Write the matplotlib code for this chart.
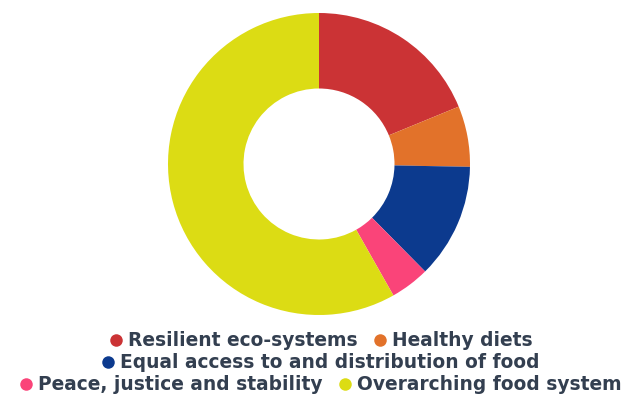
import matplotlib
matplotlib.use("Agg")
import matplotlib.pyplot as plt
from matplotlib.lines import Line2D

categories = ["Resilient eco-systems", "Healthy diets",
              "Equal access to and distribution of food",
              "Peace, justice and stability", "Overarching food system"]
values = [18.8, 6.5, 12.3, 4.2, 58.2]
colors = ["#cb3335", "#e2722a", "#0c3a8e", "#fa4479", "#dcdc14"]
legend_rows = [[0, 1], [2], [3, 4]]

fig = plt.figure(figsize=(6.26, 3.94), dpi=100)
ax = fig.add_axes([(319 - 151) / 626, (394 - 315) / 394, 302 / 626, 302 / 394])
ax.pie(values, colors=colors, startangle=90, counterclock=False,
       radius=1, wedgeprops=dict(width=0.5, linewidth=0))
ax.set_xlim(-1, 1)
ax.set_ylim(-1, 1)
ax.set_aspect("auto")
ax.axis("off")

text_color = "#333f50"
row_y = [341, 363, 385]
for row, yc in zip(legend_rows, row_y):
    handles = [Line2D([], [], marker="o", linestyle="none", markersize=9,
                      markerfacecolor=colors[i], markeredgewidth=0) for i in row]
    labels = [categories[i] for i in row]
    leg = fig.legend(handles, labels, loc="center", bbox_to_anchor=(0.51, 1 - yc / 394),
                     ncol=len(row), frameon=False, handletextpad=0.15,
                     columnspacing=0.7, handlelength=1.0, borderpad=0, borderaxespad=0,
                     prop=dict(weight="bold", size=13.4))
    for t in leg.get_texts():
        t.set_color(text_color)

fig.savefig("out.png", dpi=100)
